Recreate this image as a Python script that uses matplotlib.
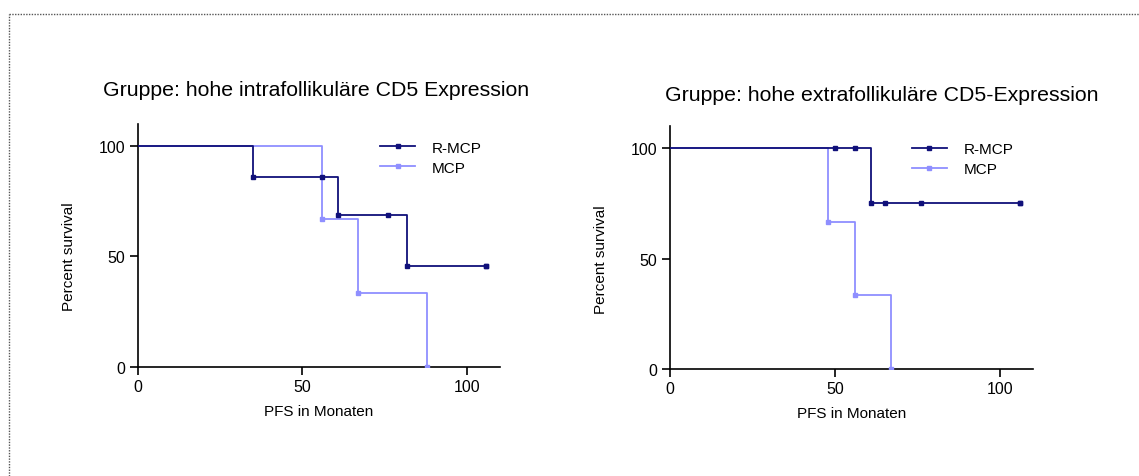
import numpy as np
import matplotlib
matplotlib.use("Agg")
import matplotlib.pyplot as plt
from matplotlib.lines import Line2D

plt.rcParams['font.family'] = ['Liberation Sans', 'DejaVu Sans']

W, H = 1139, 477

groups = ["R-MCP", "MCP"]
titles = ["Gruppe: hohe intrafollikuläre CD5 Expression",
          "Gruppe: hohe extrafollikuläre CD5-Expression"]

# left panel: intrafollicular
intra_rmcp_t = [0, 35, 61, 82, 106]
intra_rmcp_s = [100, 85.7, 68.6, 45.7, 45.7]
intra_rmcp_cens_t = [56, 76, 106]
intra_mcp_t = [0, 56, 67, 88]
intra_mcp_s = [100, 66.7, 33.3, 0]

# right panel: extrafollicular
extra_rmcp_t = [0, 61, 106]
extra_rmcp_s = [100, 75, 75]
extra_rmcp_cens_t = [50, 56, 65, 76, 106]
extra_mcp_t = [0, 48, 56, 67]
extra_mcp_s = [100, 66.7, 33.3, 0]

navy = "#10107a"
light = "#8f8fff"

fig = plt.figure(figsize=(W / 100, H / 100), dpi=100)


def surv_at(t_steps, s_steps, t):
    idx = np.searchsorted(t_steps, t, side="right") - 1
    return s_steps[idx]


def km_panel(rect, title, title_xy, rt, rs, rc, mt, ms, leg_anchor):
    ax = fig.add_axes(rect)
    ax.step(rt, rs, where="post", color=navy, lw=1.3, zorder=3)
    ax.step(mt, ms, where="post", color=light, lw=1.3, zorder=2)
    # markers at events and censored times
    ax.plot(rt[1:], rs[1:], ls="none", marker="s", ms=2.3, color=navy, zorder=4)
    ax.plot(rc, [surv_at(rt, rs, c) for c in rc], ls="none", marker="s",
            ms=2.3, color=navy, zorder=4)
    ax.plot(mt[1:], ms[1:], ls="none", marker="s", ms=2.3, color=light, zorder=3)
    ax.set_xlim(0, 110)
    ax.set_ylim(0, 110)
    ax.set_xticks([0, 50, 100])
    ax.set_yticks([0, 50, 100])
    for s in ["top", "right"]:
        ax.spines[s].set_visible(False)
    for s in ["left", "bottom"]:
        ax.spines[s].set_linewidth(1.2)
    ax.tick_params(direction="out", length=6, width=1.2, labelsize=11.5, pad=3)
    ax.set_xlabel("PFS in Monaten", fontsize=11, labelpad=7)
    ax.set_ylabel("Percent survival", fontsize=11)
    ax.yaxis.set_label_coords(-0.17, 0.455)
    handles = [Line2D([], [], color=navy, lw=1.3, marker="s", ms=2.3),
               Line2D([], [], color=light, lw=1.3, marker="s", ms=2.3)]
    ax.legend(handles, groups, loc="upper left", bbox_to_anchor=leg_anchor,
              frameon=False, fontsize=11, borderpad=0, borderaxespad=0,
              handlelength=2.3, handletextpad=1.1, labelspacing=0.4)
    fig.text(title_xy[0] / W, 1 - title_xy[1] / H, title, fontsize=15.3,
             ha="center", va="center")
    return ax


km_panel([137.7 / W, 1 - 367.7 / H, 361.9 / W, 243.1 / H], titles[0], (316, 91),
         intra_rmcp_t, intra_rmcp_s, intra_rmcp_cens_t, intra_mcp_t, intra_mcp_s,
         (0.67, 0.93))
km_panel([670 / W, 1 - 370 / H, 363 / W, 242.8 / H], titles[1], (882, 96),
         extra_rmcp_t, extra_rmcp_s, extra_rmcp_cens_t, extra_mcp_t, extra_mcp_s,
         (0.666, 0.935))

# dotted frame along top and left edges
fig.add_artist(Line2D([8.5 / W, 1], [1 - 14.5 / H, 1 - 14.5 / H], transform=fig.transFigure,
                      ls=(0, (1, 1)), color="#555555", lw=1))
fig.add_artist(Line2D([8.5 / W, 8.5 / W], [0, 1 - 14.5 / H], transform=fig.transFigure,
                      ls=(0, (1, 1)), color="#555555", lw=1))

fig.savefig("out.png", dpi=100)
